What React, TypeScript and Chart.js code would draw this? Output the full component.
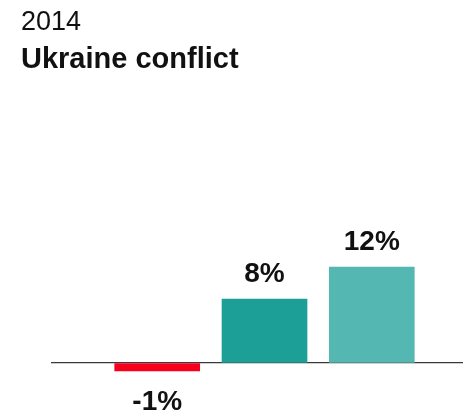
import React, { useEffect, useRef } from "react";
import { Chart, registerables } from "chart.js";

Chart.register(...registerables);

const yearLabel = "2014";
const eventLabel = "Ukraine conflict";
const categories = ["Bar 1", "Bar 2", "Bar 3"];
const positions = [1, 2, 3];
const values = [-1, 8, 12];
const barColors = ["#f7001e", "#1c9f97", "#55b7b2"];

const FONT = "'Liberation Sans', Arial, Helvetica, sans-serif";

const valueLabels = {
  id: "valueLabels",
  afterDatasetsDraw(chart: any) {
    const ctx = chart.ctx;
    const meta = chart.getDatasetMeta(0);
    ctx.save();
    ctx.font = `bold 28px ${FONT}`;
    ctx.fillStyle = "#111";
    ctx.textAlign = "center";
    ctx.textBaseline = "alphabetic";
    meta.data.forEach((el: any, i: number) => {
      const v = values[i];
      const text = `${v}%`;
      if (v >= 0) {
        ctx.fillText(text, el.x, el.y - 17);
      } else {
        ctx.fillText(text, el.x, el.y + 39);
      }
    });
    ctx.restore();
  },
};

export default function App() {
  const ref = useRef<HTMLCanvasElement | null>(null);
  useEffect(() => {
    document.body.style.margin = "0";
    const canvas = ref.current!;
    const chart = new Chart(canvas, {
      type: "bar",
      data: {
        labels: categories,
        datasets: [
          {
            data: values.map((v, i) => ({ x: positions[i], y: v })),
            backgroundColor: barColors,
            borderWidth: 0,
            barThickness: 85,
          },
        ],
      },
      options: {
        animation: false,
        responsive: false,
        maintainAspectRatio: false,
        layout: { padding: { left: 21, right: 0, top: 0, bottom: 0 } },
        plugins: {
          legend: { display: false },
          tooltip: { enabled: false },
          title: {
            display: true,
            text: yearLabel,
            align: "start",
            color: "#111",
            font: { family: FONT, size: 27, weight: "normal", lineHeight: 1.2 },
            padding: { top: 6, bottom: 4.2 },
          },
          subtitle: {
            display: true,
            text: eventLabel,
            align: "start",
            color: "#111",
            font: { family: FONT, size: 29, weight: "bold", lineHeight: 1.2 },
            padding: { top: 0, bottom: 2.6 },
          },
        },
        scales: {
          x: {
            type: "linear",
            display: false,
            offset: false,
            min: 0.01,
            max: 3.85,
          },
          y: {
            display: true,
            min: -6.375,
            max: 35.375,
            afterFit: (s: any) => {
              s.width = 30;
            },
            ticks: { display: false, stepSize: 1 },
            border: { display: false },
            grid: {
              drawTicks: false,
              lineWidth: 1.3,
              color: (c: any) => (c.tick && c.tick.value === 0 ? "#3a3a3a" : "rgba(0,0,0,0)"),
            },
          },
        },
      },
      plugins: [valueLabels],
    });
    return () => chart.destroy();
  }, []);
  return (
    <div style={{ width: 463, height: 414 }}>
      <canvas ref={ref} width={463} height={414} style={{ display: "block" }} />
    </div>
  );
}
